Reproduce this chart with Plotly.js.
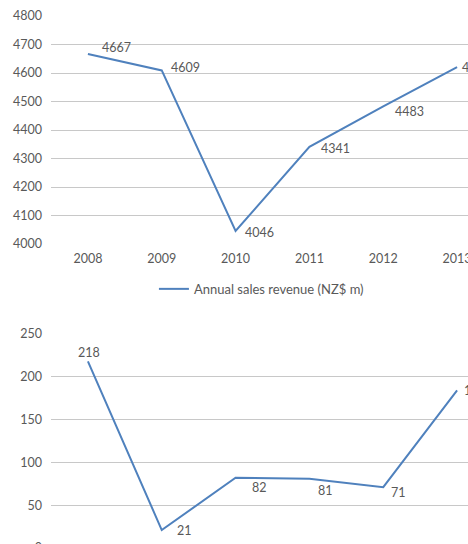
<!DOCTYPE html>
<html>
<head>
<meta charset="utf-8">
<script src="https://cdn.plot.ly/plotly-3.0.1.min.js"></script>
<style>
  html, body { margin: 0; padding: 0; overflow: hidden; background: #fff; }
  #chart { width: 520px; height: 600px; }
</style>
</head>
<body>
<div id="chart"></div>
<script>
// Years shown on both panels
const years = ["2008", "2009", "2010", "2011", "2012", "2013"];

// Annual sales revenue (NZ$ m)
const revenue = [4667, 4609, 4046, 4341, 4483, 4621];

// Second series (NZ$ m)
const profit = [218, 21, 82, 81, 71, 184];

// Tick values for the two value axes
const revenueTicks = [4000, 4100, 4200, 4300, 4400, 4500, 4600, 4700, 4800];
const profitTicks = [0, 50, 100, 150, 200, 250];

const lineColor = "#4f81bd";
const textColor = "#595959";
const gridColor = "#c8c8c8";
const fontFamily = "Lato, 'Open Sans', sans-serif";
const labelFont = { family: fontFamily, size: 12.5, color: textColor };

// Pixel offsets of each data label from its point: [dx, dy, anchor]
const revenueLabelOffsets = [[12, 6, "left"], [7, 3, "left"], [7, -2, "left"], [10, -2, "left"], [10, -5, "left"], [3, 0, "left"]];
const profitLabelOffsets = [[1, 9, "center"], [13, 0, "left"], [14, -10, "left"], [7, -12, "left"], [6, -5, "left"], [5, 0, "left"]];

const traces = [
  {
    x: years, y: revenue, type: "scatter", mode: "lines",
    name: "Annual sales revenue (NZ$ m)",
    line: { color: lineColor, width: 2 },
    xaxis: "x", yaxis: "y"
  },
  {
    x: years, y: profit, type: "scatter", mode: "lines",
    name: "Net profit (NZ$ m)", showlegend: false,
    line: { color: lineColor, width: 2 },
    xaxis: "x2", yaxis: "y2"
  }
];

// Data labels: x is the category index on the category axis
function pointLabels(values, offsets, xref, yref) {
  return values.map((v, i) => ({
    x: i, y: v, xref: xref, yref: yref,
    text: String(v), showarrow: false,
    xanchor: offsets[i][2], yanchor: "middle",
    xshift: offsets[i][0], yshift: offsets[i][1],
    font: labelFont
  }));
}

const xCommon = {
  type: "category", range: [-0.5, 5.5], showgrid: false, zeroline: false,
  showline: false, ticks: "", tickfont: { family: fontFamily, size: 12.5, color: textColor },
  fixedrange: true
};
const yCommon = {
  showgrid: true, gridcolor: gridColor, gridwidth: 1, zeroline: false, showline: false,
  ticks: "", tickfont: { family: fontFamily, size: 12.5, color: textColor },
  ticklabelstandoff: 8, fixedrange: true
};

const layout = {
  width: 520, height: 600,
  margin: { l: 51, r: 26, t: 16, b: 52 },
  paper_bgcolor: "#ffffff", plot_bgcolor: "#ffffff",
  font: { family: fontFamily, color: textColor },
  showlegend: true,
  legend: {
    orientation: "h", x: 0.475, xanchor: "center", y: 0.487, yanchor: "middle",
    font: { family: fontFamily, size: 13, color: textColor }, itemwidth: 30
  },
  xaxis: Object.assign({}, xCommon, { domain: [0, 1], anchor: "y", ticklabelstandoff: 5 }),
  yaxis: Object.assign({}, yCommon, { domain: [0.5714, 1], range: [4000, 4800], tickvals: revenueTicks }),
  xaxis2: Object.assign({}, xCommon, { domain: [0, 1], anchor: "y2", showticklabels: false }),
  yaxis2: Object.assign({}, yCommon, { domain: [0, 0.4023], range: [0, 250], tickvals: profitTicks }),
  annotations: pointLabels(revenue, revenueLabelOffsets, "x", "y")
    .concat(pointLabels(profit, profitLabelOffsets, "x2", "y2"))
};

Plotly.newPlot("chart", traces, layout, { displayModeBar: false, staticPlot: true });
</script>
</body>
</html>
